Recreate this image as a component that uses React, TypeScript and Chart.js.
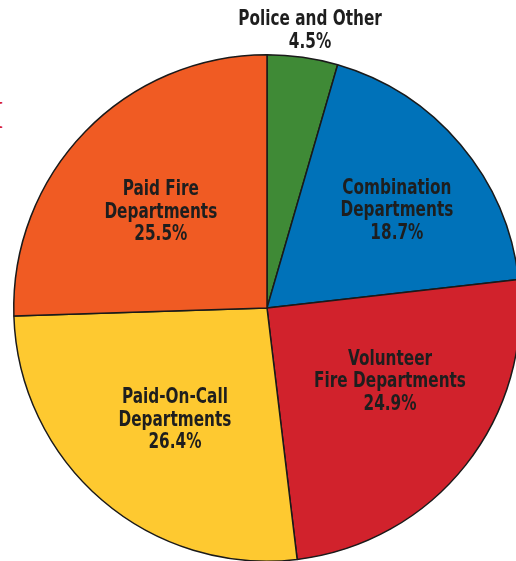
import React, { useEffect, useRef } from "react";
import { Chart, registerables } from "chart.js";

Chart.register(...registerables);

const categories: string[][] = [
  ["Police and Other"],
  ["Combination", "Departments"],
  ["Volunteer", "Fire Departments"],
  ["Paid-On-Call", "Departments"],
  ["Paid Fire", "Departments"],
];
const shares: number[] = [4.5, 18.7, 24.9, 26.4, 25.5];
const sliceColors: string[] = ["#3f8a36", "#0072b9", "#d1222c", "#fec930", "#f05b23"];
const labelRadius: number[] = [1.106, 0.64, 0.567, 0.573, 0.564];
const labelTurn: number[] = [0.74, 3.4, -7.3, -1.3, -2.1];

const FONT = '"DejaVu Sans Condensed", sans-serif';

const labelPlugin = {
  id: "sliceLabels",
  afterDatasetsDraw(chart: any) {
    const ctx = chart.ctx as CanvasRenderingContext2D;
    const meta = chart.getDatasetMeta(0);
    ctx.save();
    ctx.font = `bold 21px ${FONT}`;
    ctx.fillStyle = "#1e1e1e";
    ctx.textAlign = "center";
    ctx.textBaseline = "middle";
    const lh = 22.5;
    const sx = 0.81;
    meta.data.forEach((arc: any, i: number) => {
      const p = arc.getProps(["x", "y", "startAngle", "endAngle", "outerRadius"], true);
      const mid = (p.startAngle + p.endAngle) / 2 + (labelTurn[i] * Math.PI) / 180;
      const r = p.outerRadius * labelRadius[i];
      const cx = p.x + Math.cos(mid) * r;
      const cy = p.y + Math.sin(mid) * r;
      const lines = [...categories[i], shares[i].toFixed(1) + "%"];
      const top = cy - ((lines.length - 1) * lh) / 2;
      lines.forEach((t, k) => {
        ctx.save();
        ctx.translate(cx, top + k * lh);
        ctx.scale(sx, 1);
        ctx.fillText(t, 0, 0);
        ctx.restore();
      });
    });
    ctx.restore();
  },
};

export default function App() {
  const ref = useRef<HTMLCanvasElement>(null);
  useEffect(() => {
    if (!ref.current) return;
    const chart = new Chart(ref.current, {
      type: "pie",
      data: {
        labels: categories.map((c) => c.join(" ")),
        datasets: [
          {
            data: shares,
            backgroundColor: sliceColors,
            borderColor: "#1a1a1a",
            borderWidth: 1.5,
          },
        ],
      },
      options: {
        animation: false,
        responsive: true,
        maintainAspectRatio: false,
        layout: { padding: 13 },
        plugins: {
          legend: { display: false },
          tooltip: { enabled: false },
        },
      },
      plugins: [labelPlugin],
    });
    return () => chart.destroy();
  }, []);
  return (
    <div
      style={{
        position: "fixed",
        left: 0,
        top: 0,
        width: 516,
        height: 561,
        overflow: "hidden",
        background: "#fff",
      }}
    >
      <span
        style={{
          position: "absolute",
          left: -12,
          top: 91,
          color: "#d9232e",
          font: 'bold 40px "Liberation Serif", serif',
        }}
      >
        I
      </span>
      <div style={{ position: "absolute", left: 0, top: 0, width: 534, height: 616 }}>
        <canvas ref={ref} />
      </div>
    </div>
  );
}
